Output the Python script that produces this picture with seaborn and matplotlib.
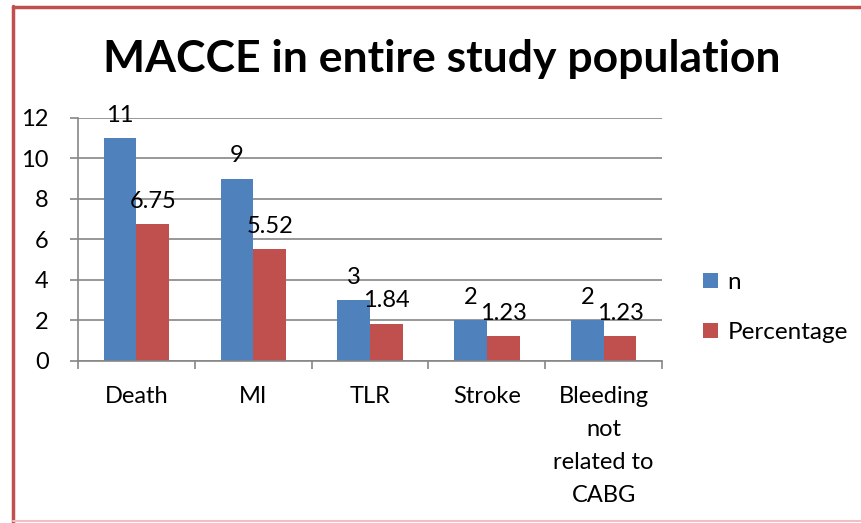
import matplotlib
matplotlib.use('Agg')
import matplotlib.pyplot as plt
from matplotlib.lines import Line2D
import seaborn as sns
import pandas as pd

# Données
categories = ['Death', 'MI', 'TLR', 'Stroke', 'Bleeding\nnot\nrelated to\nCABG']
n_values = [11, 9, 3, 2, 2]
pct_values = [6.75, 5.52, 1.84, 1.23, 1.23]
series_names = ['n', 'Percentage']
colors = ['#4F81BD', '#C0504D']
y_ticks = [0, 2, 4, 6, 8, 10, 12]

df = pd.DataFrame({
    'category': categories * 2,
    'value': n_values + pct_values,
    'series': [series_names[0]] * len(categories) + [series_names[1]] * len(categories),
})

sns.set_style('white')
plt.rcParams['font.family'] = ['Lato', 'DejaVu Sans']
plt.rcParams['text.color'] = 'black'

fig = plt.figure(figsize=(8.62, 5.23), dpi=100)
ax = fig.add_axes([0.0905, 0.3098, 0.6775, 0.4646])

sns.barplot(data=df, x='category', y='value', hue='series', order=categories,
            hue_order=series_names, palette=colors, width=0.56, saturation=1,
            linewidth=0, ax=ax, legend=True)

for cont, vals in zip(ax.containers, [n_values, pct_values]):
    ax.bar_label(cont, labels=[f'{v:g}' for v in vals], padding=9, fontsize=17,
                 color='black')

ax.set_ylim(0, 12)
ax.set_xlim(-0.5, len(categories) - 0.5)
ax.set_yticks(y_ticks)
ax.yaxis.grid(True, color='#868686', linewidth=1.2)
ax.set_axisbelow(True)
ax.set_xlabel('')
ax.set_ylabel('')
ax.tick_params(axis='y', labelsize=17, length=6, width=1.2, color='#868686',
               labelcolor='black', left=True, pad=15)
ax.tick_params(axis='x', labelsize=17, length=0, pad=18, labelcolor='black')
ax.set_xticks([i - 0.5 for i in range(len(categories) + 1)], minor=True)
ax.tick_params(axis='x', which='minor', length=6, width=1.2, color='#868686',
               bottom=True)
for lab in ax.get_xticklabels():
    lab.set_multialignment('center')
    lab.set_linespacing(1.7)
for side in ['top', 'right']:
    ax.spines[side].set_visible(False)
for side in ['left', 'bottom']:
    ax.spines[side].set_color('#868686')
    ax.spines[side].set_linewidth(1.2)

handles, labels = ax.get_legend_handles_labels()
leg = ax.legend(handles, labels, loc='center left', bbox_to_anchor=(1.033, 0.22),
                frameon=False, fontsize=17.5, handlelength=0.6, handleheight=0.6,
                handletextpad=0.4, labelspacing=1.2)
for t in leg.get_texts():
    t.set_color('black')

fig.suptitle('MACCE in entire study population', x=0.512, y=0.925,
             fontsize=32, fontweight='bold', color='black')

# Cadre rouge (gauche + haut), bas rose pâle
fig.add_artist(Line2D([0.0151, 0.0151], [0, 0.988], color='#C0504D', lw=2.5,
                      transform=fig.transFigure))
fig.add_artist(Line2D([0.0151, 1.0], [0.987, 0.987], color='#C0504D', lw=2.5,
                      transform=fig.transFigure))
fig.add_artist(Line2D([0.0151, 1.0], [0.004, 0.004], color='#F0C0C0', lw=1.5,
                      transform=fig.transFigure))

fig.savefig('out.png', dpi=100)
